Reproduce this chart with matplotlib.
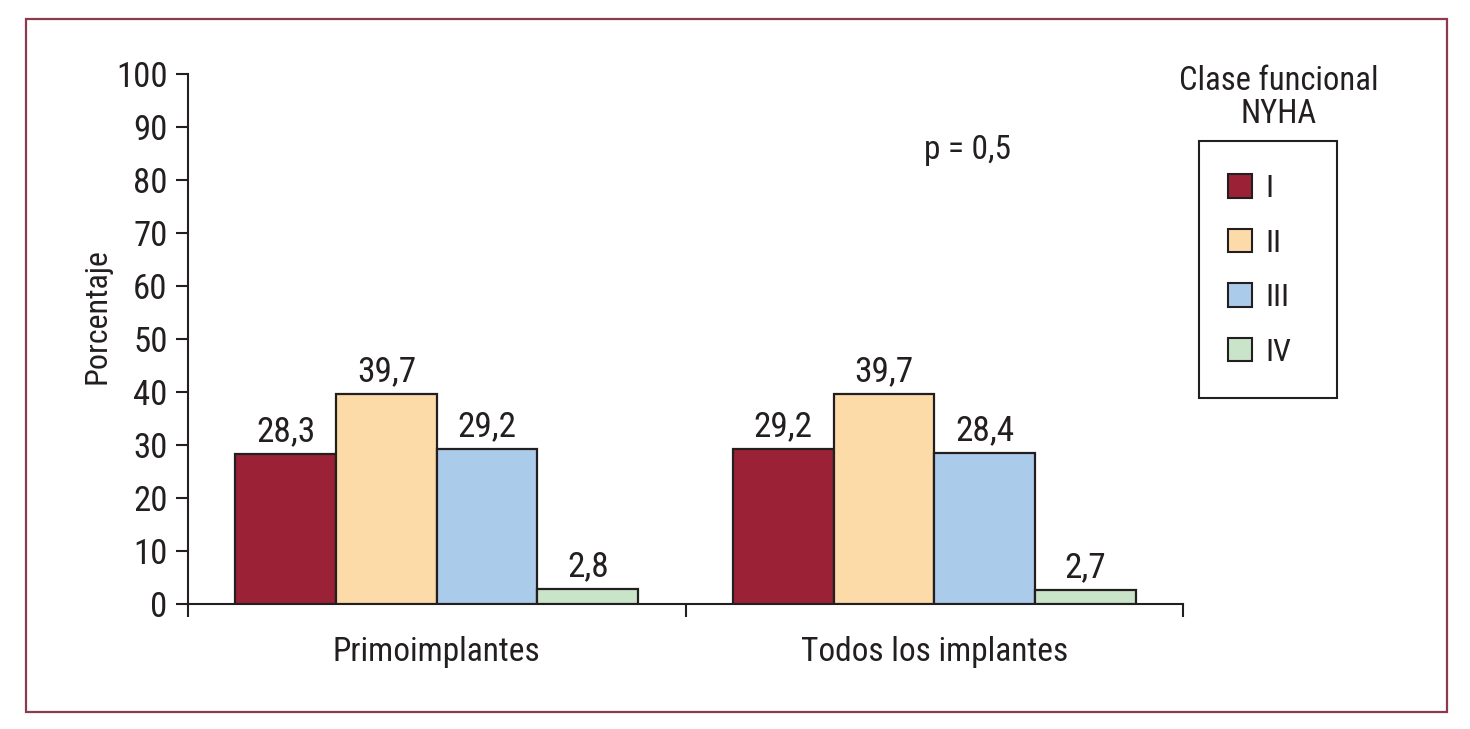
import matplotlib
matplotlib.use("Agg")
import matplotlib.pyplot as plt
import numpy as np
from matplotlib.patches import Rectangle, Patch

categories = ["Primoimplantes", "Todos los implantes"]
classes = ["I", "II", "III", "IV"]
values = {
    "I": [28.3, 29.2],
    "II": [39.7, 39.7],
    "III": [29.2, 28.4],
    "IV": [2.8, 2.7],
}
labels = {
    "I": ["28,3", "29,2"],
    "II": ["39,7", "39,7"],
    "III": ["29,2", "28,4"],
    "IV": ["2,8", "2,7"],
}
yticks = [0, 10, 20, 30, 40, 50, 60, 70, 80, 90, 100]
colors = ["#9b2236", "#fddba9", "#abcbea", "#c9e4c9"]

FONT = ["Roboto Condensed", "DejaVu Sans"]
plt.rcParams['font.family'] = FONT
TXT = "#231f20"

W, H = 1470, 729
fig = plt.figure(figsize=(W / 100, H / 100), dpi=100)
ax = fig.add_axes([188 / W, 1 - 604 / H, (1183 - 188) / W, (604 - 74) / H])

x = np.arange(len(categories))
bw = 0.2025
for i, c in enumerate(classes):
    pos = x + (i - 1.5) * bw
    ax.bar(pos, values[c], width=bw, color=colors[i], edgecolor=TXT, linewidth=1.6, zorder=3)
    for p, v, l in zip(pos, values[c], labels[c]):
        ax.text(p, v + 1.1, l, ha="center", va="bottom", fontsize=25.5, color=TXT)

ax.set_xlim(-0.5, 1.5)
ax.set_ylim(0, 100)
ax.set_yticks(yticks)
ax.set_yticklabels([str(t) for t in yticks], fontsize=25, color=TXT)
ax.set_xticks([-0.5, 0.5, 1.5])
ax.set_xticklabels([])
ax.set_xticks(x, minor=True)
ax.set_xticklabels(categories, minor=True, fontsize=24, color=TXT)
ax.tick_params(axis="x", which="major", length=9.5, width=1.5, direction="out", color=TXT)
ax.tick_params(axis="x", which="minor", length=0, pad=23)
ax.tick_params(axis="y", length=8.6, width=1.5, direction="out", color=TXT, pad=6)
for s in ["top", "right"]:
    ax.spines[s].set_visible(False)
for s in ["left", "bottom"]:
    ax.spines[s].set_linewidth(1.5)
    ax.spines[s].set_color(TXT)
ax.set_ylabel("Porcentaje", fontsize=23, color=TXT)
ax.yaxis.set_label_coords((112 - 188) / 995, (604 - 316) / 530)

fig.text(967 / W, 1 - 150 / H, "p = 0,5", ha="center", va="center", fontsize=24, color=TXT)

# legend title and box
fig.text(1279 / W, 1 - 65 / H, "Clase funcional\nNYHA", ha="center", va="top",
         fontsize=23.5, color=TXT, linespacing=1.05)
fig.patches.append(Rectangle((1199 / W, 1 - 398 / H), (1337 - 1199) / W, (398 - 141) / H,
                             transform=fig.transFigure, fill=False, edgecolor=TXT, linewidth=1.5))
handles = [Patch(facecolor=colors[i], edgecolor=TXT, linewidth=1.5, label=c) for i, c in enumerate(classes)]
fig.legend(handles=handles, loc="upper left", bbox_to_anchor=(1228 / W, 1 - 174 / H),
           bbox_transform=fig.transFigure, frameon=False, fontsize=23, borderpad=0,
           borderaxespad=0, handlelength=0.75, handleheight=0.75, handletextpad=0.42,
           labelspacing=0.8, labelcolor=TXT)

# outer frame
fig.patches.append(Rectangle((26 / W, 1 - 712 / H), (1447 - 26) / W, (712 - 19) / H,
                             transform=fig.transFigure, fill=False, edgecolor="#8b3a50", linewidth=1.6))

fig.savefig("out.png", dpi=100)
